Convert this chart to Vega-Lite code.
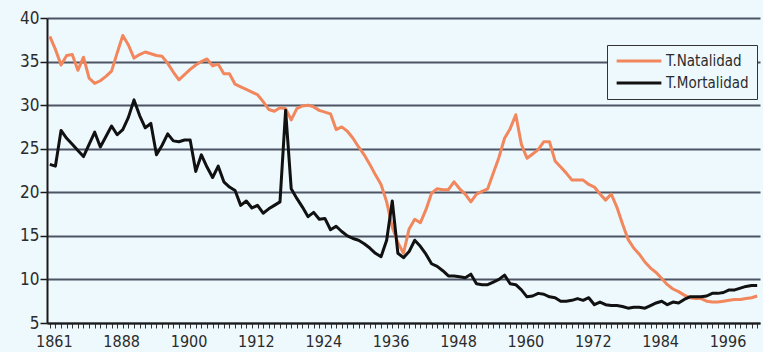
{
  "$schema": "https://vega.github.io/schema/vega-lite/v6.json",
  "width": 713,
  "height": 305,
  "autosize": {"type": "none"},
  "padding": {"left": 47, "top": 18, "right": 3, "bottom": 29},
  "background": "#eef9fd",
  "config": {
    "view": {"stroke": null, "fill": "#eef9fd"},
    "font": "DejaVu Sans Condensed"
  },
  "data": {
    "values": [
      {"year": "1861", "Natalidad": 37.9, "Mortalidad": 23.2},
      {"year": "1862", "Natalidad": 36.4, "Mortalidad": 23.0},
      {"year": "1863", "Natalidad": 34.6, "Mortalidad": 27.1},
      {"year": "1864", "Natalidad": 35.7, "Mortalidad": 26.2},
      {"year": "1865", "Natalidad": 35.8, "Mortalidad": 25.5},
      {"year": "1866", "Natalidad": 34.0, "Mortalidad": 24.8},
      {"year": "1867", "Natalidad": 35.5, "Mortalidad": 24.1},
      {"year": "1868", "Natalidad": 33.1, "Mortalidad": 25.5},
      {"year": "1869", "Natalidad": 32.5, "Mortalidad": 26.9},
      {"year": "1870", "Natalidad": 32.8, "Mortalidad": 25.2},
      {"year": "1878", "Natalidad": 33.3, "Mortalidad": 26.4},
      {"year": "1887", "Natalidad": 33.9, "Mortalidad": 27.6},
      {"year": "1888", "Natalidad": 36.0, "Mortalidad": 26.6},
      {"year": "1889", "Natalidad": 38.0, "Mortalidad": 27.2},
      {"year": "1890", "Natalidad": 36.9, "Mortalidad": 28.6},
      {"year": "1891", "Natalidad": 35.4, "Mortalidad": 30.6},
      {"year": "1892", "Natalidad": 35.8, "Mortalidad": 28.8},
      {"year": "1893", "Natalidad": 36.1, "Mortalidad": 27.4},
      {"year": "1894", "Natalidad": 35.9, "Mortalidad": 27.9},
      {"year": "1895", "Natalidad": 35.7, "Mortalidad": 24.3},
      {"year": "1896", "Natalidad": 35.6, "Mortalidad": 25.4},
      {"year": "1897", "Natalidad": 34.8, "Mortalidad": 26.7},
      {"year": "1898", "Natalidad": 33.8, "Mortalidad": 25.9},
      {"year": "1899", "Natalidad": 32.9, "Mortalidad": 25.8},
      {"year": "1900", "Natalidad": 33.5, "Mortalidad": 26.0},
      {"year": "1901", "Natalidad": 34.1, "Mortalidad": 26.0},
      {"year": "1902", "Natalidad": 34.6, "Mortalidad": 22.4},
      {"year": "1903", "Natalidad": 35.0, "Mortalidad": 24.3},
      {"year": "1904", "Natalidad": 35.3, "Mortalidad": 22.9},
      {"year": "1905", "Natalidad": 34.5, "Mortalidad": 21.7},
      {"year": "1906", "Natalidad": 34.7, "Mortalidad": 23.0},
      {"year": "1907", "Natalidad": 33.6, "Mortalidad": 21.2},
      {"year": "1908", "Natalidad": 33.6, "Mortalidad": 20.6},
      {"year": "1909", "Natalidad": 32.4, "Mortalidad": 20.2},
      {"year": "1910", "Natalidad": 32.1, "Mortalidad": 18.5},
      {"year": "1911", "Natalidad": 31.8, "Mortalidad": 19.0},
      {"year": "1912", "Natalidad": 31.5, "Mortalidad": 18.2},
      {"year": "1913", "Natalidad": 31.2, "Mortalidad": 18.5},
      {"year": "1914", "Natalidad": 30.4, "Mortalidad": 17.6},
      {"year": "1915", "Natalidad": 29.5, "Mortalidad": 18.1},
      {"year": "1916", "Natalidad": 29.3, "Mortalidad": 18.5},
      {"year": "1917", "Natalidad": 29.7, "Mortalidad": 18.9},
      {"year": "1918", "Natalidad": 29.6, "Mortalidad": 29.4},
      {"year": "1919", "Natalidad": 28.3, "Mortalidad": 20.4},
      {"year": "1920", "Natalidad": 29.6, "Mortalidad": 19.3},
      {"year": "1921", "Natalidad": 29.9, "Mortalidad": 18.3},
      {"year": "1922", "Natalidad": 30.0, "Mortalidad": 17.2},
      {"year": "1923", "Natalidad": 29.8, "Mortalidad": 17.7},
      {"year": "1924", "Natalidad": 29.4, "Mortalidad": 16.9},
      {"year": "1925", "Natalidad": 29.2, "Mortalidad": 17.0},
      {"year": "1926", "Natalidad": 29.0, "Mortalidad": 15.7},
      {"year": "1927", "Natalidad": 27.2, "Mortalidad": 16.1},
      {"year": "1928", "Natalidad": 27.5, "Mortalidad": 15.5},
      {"year": "1929", "Natalidad": 27.0, "Mortalidad": 15.0},
      {"year": "1930", "Natalidad": 26.2, "Mortalidad": 14.7},
      {"year": "1931", "Natalidad": 25.2, "Mortalidad": 14.5},
      {"year": "1932", "Natalidad": 24.3, "Mortalidad": 14.1},
      {"year": "1933", "Natalidad": 23.2, "Mortalidad": 13.6},
      {"year": "1934", "Natalidad": 22.0, "Mortalidad": 13.0},
      {"year": "1935", "Natalidad": 20.9, "Mortalidad": 12.6},
      {"year": "1936", "Natalidad": 18.9, "Mortalidad": 14.5},
      {"year": "1937", "Natalidad": 16.0, "Mortalidad": 19.0},
      {"year": "1938", "Natalidad": 14.2, "Mortalidad": 13.0},
      {"year": "1939", "Natalidad": 13.0, "Mortalidad": 12.5},
      {"year": "1940", "Natalidad": 15.8, "Mortalidad": 13.2},
      {"year": "1941", "Natalidad": 16.9, "Mortalidad": 14.5},
      {"year": "1942", "Natalidad": 16.5, "Mortalidad": 13.8},
      {"year": "1943", "Natalidad": 18.0, "Mortalidad": 12.9},
      {"year": "1944", "Natalidad": 19.9, "Mortalidad": 11.8},
      {"year": "1945", "Natalidad": 20.4, "Mortalidad": 11.5},
      {"year": "1946", "Natalidad": 20.3, "Mortalidad": 11.0},
      {"year": "1947", "Natalidad": 20.3, "Mortalidad": 10.4},
      {"year": "1948", "Natalidad": 21.2, "Mortalidad": 10.4},
      {"year": "1949", "Natalidad": 20.4, "Mortalidad": 10.3},
      {"year": "1950", "Natalidad": 19.8, "Mortalidad": 10.2},
      {"year": "1951", "Natalidad": 18.9, "Mortalidad": 10.6},
      {"year": "1952", "Natalidad": 19.8, "Mortalidad": 9.5},
      {"year": "1953", "Natalidad": 20.1, "Mortalidad": 9.4},
      {"year": "1954", "Natalidad": 20.4, "Mortalidad": 9.4},
      {"year": "1955", "Natalidad": 22.2, "Mortalidad": 9.7},
      {"year": "1956", "Natalidad": 24.0, "Mortalidad": 10.0},
      {"year": "1957", "Natalidad": 26.2, "Mortalidad": 10.5},
      {"year": "1958", "Natalidad": 27.3, "Mortalidad": 9.5},
      {"year": "1959", "Natalidad": 28.9, "Mortalidad": 9.4},
      {"year": "1960", "Natalidad": 25.5, "Mortalidad": 8.8},
      {"year": "1961", "Natalidad": 23.9, "Mortalidad": 8.0},
      {"year": "1962", "Natalidad": 24.4, "Mortalidad": 8.1},
      {"year": "1963", "Natalidad": 24.9, "Mortalidad": 8.4},
      {"year": "1964", "Natalidad": 25.8, "Mortalidad": 8.3},
      {"year": "1965", "Natalidad": 25.8, "Mortalidad": 8.0},
      {"year": "1966", "Natalidad": 23.6, "Mortalidad": 7.9},
      {"year": "1967", "Natalidad": 22.9, "Mortalidad": 7.5},
      {"year": "1968", "Natalidad": 22.2, "Mortalidad": 7.5},
      {"year": "1969", "Natalidad": 21.4, "Mortalidad": 7.6},
      {"year": "1970", "Natalidad": 21.4, "Mortalidad": 7.8},
      {"year": "1971", "Natalidad": 21.4, "Mortalidad": 7.6},
      {"year": "1972", "Natalidad": 20.9, "Mortalidad": 7.9},
      {"year": "1973", "Natalidad": 20.6, "Mortalidad": 7.1},
      {"year": "1974", "Natalidad": 19.8, "Mortalidad": 7.4},
      {"year": "1975", "Natalidad": 19.1, "Mortalidad": 7.1},
      {"year": "1976", "Natalidad": 19.8, "Mortalidad": 7.0},
      {"year": "1977", "Natalidad": 18.3, "Mortalidad": 7.0},
      {"year": "1978", "Natalidad": 16.4, "Mortalidad": 6.9},
      {"year": "1979", "Natalidad": 14.6, "Mortalidad": 6.7},
      {"year": "1980", "Natalidad": 13.6, "Mortalidad": 6.8},
      {"year": "1981", "Natalidad": 12.9, "Mortalidad": 6.8},
      {"year": "1982", "Natalidad": 12.0, "Mortalidad": 6.7},
      {"year": "1983", "Natalidad": 11.3, "Mortalidad": 7.0},
      {"year": "1984", "Natalidad": 10.8, "Mortalidad": 7.3},
      {"year": "1985", "Natalidad": 10.1, "Mortalidad": 7.5},
      {"year": "1986", "Natalidad": 9.4, "Mortalidad": 7.1},
      {"year": "1987", "Natalidad": 8.9, "Mortalidad": 7.4},
      {"year": "1988", "Natalidad": 8.6, "Mortalidad": 7.3},
      {"year": "1989", "Natalidad": 8.2, "Mortalidad": 7.7},
      {"year": "1990", "Natalidad": 7.9, "Mortalidad": 8.0},
      {"year": "1991", "Natalidad": 7.8, "Mortalidad": 8.0},
      {"year": "1992", "Natalidad": 7.8, "Mortalidad": 8.0},
      {"year": "1993", "Natalidad": 7.5, "Mortalidad": 8.1},
      {"year": "1994", "Natalidad": 7.4, "Mortalidad": 8.4},
      {"year": "1995", "Natalidad": 7.4, "Mortalidad": 8.4},
      {"year": "1996", "Natalidad": 7.5, "Mortalidad": 8.5},
      {"year": "1997", "Natalidad": 7.6, "Mortalidad": 8.8},
      {"year": "1998", "Natalidad": 7.7, "Mortalidad": 8.8},
      {"year": "1999", "Natalidad": 7.7, "Mortalidad": 9.0},
      {"year": "2000", "Natalidad": 7.8, "Mortalidad": 9.2},
      {"year": "2001", "Natalidad": 7.9, "Mortalidad": 9.3},
      {"year": "2002", "Natalidad": 8.1, "Mortalidad": 9.3}
    ]
  },
  "transform": [
    {"fold": ["Natalidad", "Mortalidad"], "as": ["serie", "tasa"]}
  ],
  "mark": {"type": "line", "strokeWidth": 3, "strokeJoin": "round"},
  "encoding": {
    "x": {
      "field": "year",
      "type": "ordinal",
      "sort": null,
      "scale": {"type": "point", "padding": 0.5},
      "axis": {
        "title": null,
        "labelExpr": "indexof(['1861','1888','1900','1912','1924','1936','1948','1960','1972','1984','1996'], datum.value) >= 0 ? datum.value : ''",
        "labelAngle": 0,
        "labelOverlap": false,
        "labelFontSize": 16,
        "labelColor": "#2b2b2b",
        "labelPadding": 5,
        "labelOffset": 4,
        "tickSize": 5,
        "tickWidth": 1,
        "tickColor": "#333333",
        "domainColor": "#1a1a1a",
        "domainWidth": 2,
        "grid": false
      }
    },
    "y": {
      "field": "tasa",
      "type": "quantitative",
      "scale": {"domain": [5, 40], "nice": false, "zero": false},
      "axis": {
        "title": null,
        "values": [5, 10, 15, 20, 25, 30, 35, 40],
        "grid": true,
        "gridColor": "#4d5564",
        "gridWidth": 2,
        "domainColor": "#1a1a1a",
        "domainWidth": 2,
        "tickSize": 7,
        "tickWidth": 1.5,
        "tickColor": "#1a1a1a",
        "labelFontSize": 17,
        "labelColor": "#2b2b2b",
        "labelPadding": 1
      }
    },
    "color": {
      "field": "serie",
      "type": "nominal",
      "scale": {"domain": ["Natalidad", "Mortalidad"], "range": ["#f2865c", "#111111"]},
      "legend": {
        "title": null,
        "orient": "none",
        "legendX": 560,
        "legendY": 27,
        "labelExpr": "'T.' + datum.label",
        "labelFontSize": 15,
        "labelColor": "#2b2b2b",
        "labelOffset": 3,
        "symbolType": "stroke",
        "symbolSize": 2000,
        "symbolStrokeWidth": 3,
        "clipHeight": 16,
        "rowPadding": 6,
        "padding": 8,
        "strokeColor": "#333333",
        "fillColor": "#eef9fd"
      }
    }
  }
}
